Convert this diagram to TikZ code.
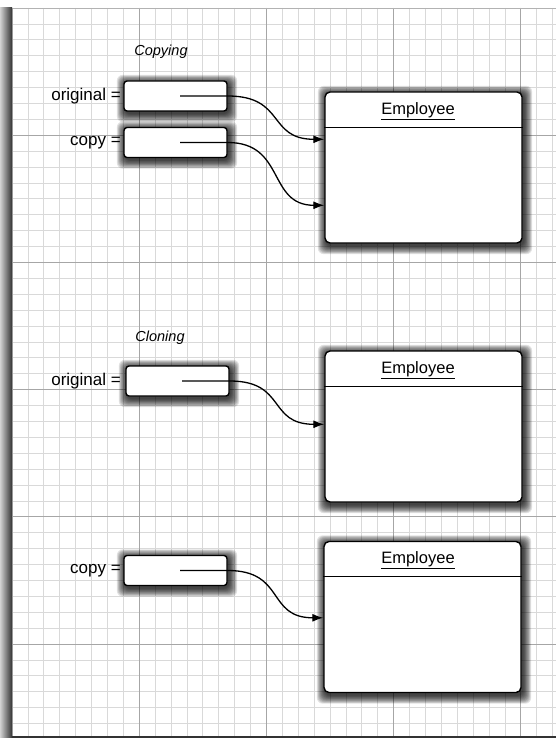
\documentclass[tikz,border=0pt]{standalone}
\usepackage{fontspec}
\setmainfont{Liberation Sans}
\usetikzlibrary{arrows.meta}
\pgfdeclarelayer{bg}
\pgfsetlayers{bg,main}
\tikzset{
  minorgrid/.style={draw=gray!30, line width=0.7pt},
  majorgrid/.style={draw=gray!70, line width=0.8pt},
  refbox/.style={draw=black, line width=1.4pt, rounded corners=3pt, fill=white,
    minimum width=103pt, minimum height=30pt, inner sep=0pt},
  empbox/.style={draw=black, line width=1.4pt, rounded corners=5pt, fill=white,
    minimum width=197pt, minimum height=151pt, inner sep=0pt},
  shadowlayer/.style={fill=black, opacity=0.11, rounded corners=6pt},
  lbl/.style={font=\fontsize{17}{19}\selectfont, anchor=east, inner sep=0pt},
  ttl/.style={font=\fontsize{14.5}{16}\selectfont\itshape, inner sep=0pt},
  emptitle/.style={font=\fontsize{16.5}{18}\selectfont, inner sep=0pt},
  ptr/.style={draw=black, line width=1.3pt, -{Latex[length=11pt,width=8pt]}},
  divider/.style={draw=black, line width=0.9pt}
}
\newcommand\boxshadow[1]{%
  \begin{pgfonlayer}{bg}
  \foreach \e in {0,...,10} {
    \fill[shadowlayer] ([shift={({-\e*0.8+1.5},{-\e*0.8+2.5})}]#1.north west)
      rectangle ([shift={({\e*0.8+1.5},{\e*0.8+2.5})}]#1.south east);
  }
  \end{pgfonlayer}}
\begin{document}
\begin{tikzpicture}[x=1pt,y=-1pt]
\useasboundingbox (0,0) rectangle (556,738);
\begin{pgfonlayer}{bg}
\fill[white] (0,0) rectangle (556,738);
% left shadow strip
\shade[left color=gray!35, right color=black!80] (0,8) rectangle (12,738);
% grid
\foreach \i in {0,...,34} {
  \draw[minorgrid] ({12+15.9*\i},8) -- ({12+15.9*\i},736);
}
\foreach \j in {0,...,45} {
  \draw[minorgrid] (12,{8+15.9*\j}) -- (556,{8+15.9*\j});
}
\foreach \i in {1,...,4} {
  \draw[majorgrid] ({12+127.2*\i},8) -- ({12+127.2*\i},736);
}
\foreach \j in {1,...,5} {
  \draw[majorgrid] (12,{8+127.2*\j}) -- (556,{8+127.2*\j});
}
\draw[gray!60, line width=0.8pt] (12,8) -- (556,8);
\draw[gray!80, line width=1pt] (12,8) -- (12,736);
\draw[black!80, line width=2pt] (12,737) -- (556,737);
\end{pgfonlayer}

% Copying
\node[ttl] (tcopying) at (161,52) {Copying};
\node[refbox] (orig1) at (175.5,96) {};
\node[lbl] (lorig1) at (121,96) {original =};
\node[refbox] (copy1) at (175.5,142.5) {};
\node[lbl] (lcopy1) at (121,142.5) {copy =};
\node[empbox] (emp1) at (423.5,167.5) {};
\node[emptitle] (emp1t) at (418,111) {\underline{Employee}};
\draw[divider] ([yshift=-36pt]emp1.north west) -- ([yshift=-36pt]emp1.north east);
\coordinate (s1) at (180,96);
\coordinate (s2) at (180,142.5);
\draw[ptr] (s1) -- (orig1.east) .. controls +(58,0) and +(-57,0) .. ([yshift=-48pt]emp1.north west);
\draw[ptr] (s2) -- (copy1.east) .. controls +(58,0) and +(-57,0) .. ([yshift=-114pt]emp1.north west);

% Cloning
\node[ttl] (tcloning) at (160,338) {Cloning};
\node[refbox] (orig2) at (177.5,381) {};
\node[lbl] (lorig2) at (121,381) {original =};
\node[empbox] (emp2) at (423.5,426.5) {};
\node[emptitle] (emp2t) at (418,370) {\underline{Employee}};
\draw[divider] ([yshift=-36pt]emp2.north west) -- ([yshift=-36pt]emp2.north east);
\coordinate (s3) at (182,381);
\draw[ptr] (s3) -- (orig2.east) .. controls +(57,0) and +(-57,0) .. ([yshift=-74pt]emp2.north west);

\node[refbox] (copy2) at (175.5,570.5) {};
\node[lbl] (lcopy2) at (121,570.5) {copy =};
\node[empbox] (emp3) at (422.5,617) {};
\node[emptitle] (emp3t) at (418,560) {\underline{Employee}};
\draw[divider] ([yshift=-36pt]emp3.north west) -- ([yshift=-36pt]emp3.north east);
\coordinate (s4) at (180,570.5);
\draw[ptr] (s4) -- (copy2.east) .. controls +(58,0) and +(-57,0) .. ([yshift=-77pt]emp3.north west);

\boxshadow{orig1}
\boxshadow{copy1}
\boxshadow{orig2}
\boxshadow{copy2}
\boxshadow{emp1}
\boxshadow{emp2}
\boxshadow{emp3}
\end{tikzpicture}
\end{document}
